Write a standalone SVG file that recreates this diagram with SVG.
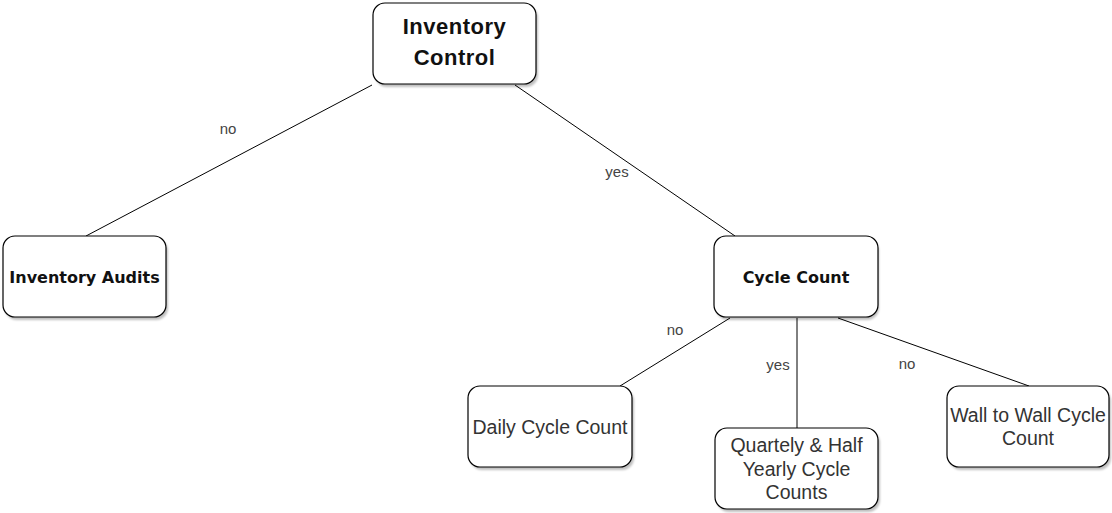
<svg xmlns="http://www.w3.org/2000/svg" width="1112" height="513" viewBox="0 0 1112 513">
  <style>
    .box { fill: #ffffff; stroke: #000000; stroke-width: 1.2; }
    .shadow { fill: #000000; opacity: 0.25; }
    .edge { stroke: #000000; stroke-width: 1; fill: none; }
    .lbl { font-family: "Liberation Sans", Arial, sans-serif; font-size: 15px; fill: #444444; text-anchor: middle; }
    .title { font-family: "Liberation Sans", Arial, sans-serif; font-size: 22px; font-weight: bold; fill: #111111; text-anchor: middle; letter-spacing: 0.5px; }
    .bold { font-family: "DejaVu Sans", Verdana, sans-serif; font-size: 16px; font-weight: bold; fill: #111111; text-anchor: middle; }
    .plain { font-family: "Liberation Sans", Arial, sans-serif; font-size: 19.5px; fill: #333333; text-anchor: middle; }
  </style>
  <defs>
    <filter id="soft" x="-10%" y="-10%" width="130%" height="130%">
      <feGaussianBlur stdDeviation="1"/>
    </filter>
  </defs>

  <g id="connectors">
    <line class="edge" x1="372" y1="85" x2="86" y2="236"/>
    <line class="edge" x1="515" y1="85" x2="735" y2="236"/>
    <line class="edge" x1="730" y1="318" x2="620" y2="386"/>
    <line class="edge" x1="797" y1="318" x2="797" y2="428"/>
    <line class="edge" x1="838" y1="318" x2="1029" y2="386"/>
    <text class="lbl" x="228" y="134">no</text>
    <text class="lbl" x="617" y="177">yes</text>
    <text class="lbl" x="675" y="335">no</text>
    <text class="lbl" x="778" y="370">yes</text>
    <text class="lbl" x="907" y="369">no</text>
  </g>

  <g id="inventory-control">
    <rect class="shadow" filter="url(#soft)" x="375" y="6" width="163" height="81" rx="12"/>
    <rect class="box" x="373" y="3" width="163" height="81" rx="12"/>
    <text class="title" x="454.5" y="34">Inventory</text>
    <text class="title" x="454.5" y="65">Control</text>
  </g>

  <g id="inventory-audits">
    <rect class="shadow" filter="url(#soft)" x="5" y="239" width="163" height="81" rx="12"/>
    <rect class="box" x="3" y="236" width="163" height="81" rx="12"/>
    <text class="bold" x="84.5" y="283">Inventory Audits</text>
  </g>

  <g id="cycle-count">
    <rect class="shadow" filter="url(#soft)" x="716" y="239" width="163" height="81" rx="12"/>
    <rect class="box" x="714" y="236" width="164" height="81" rx="12"/>
    <text class="bold" x="796" y="283">Cycle Count</text>
  </g>

  <g id="daily-cycle-count">
    <rect class="shadow" filter="url(#soft)" x="470" y="389" width="164" height="81" rx="12"/>
    <rect class="box" x="468" y="386" width="164" height="81" rx="12"/>
    <text class="plain" x="550" y="434">Daily Cycle Count</text>
  </g>

  <g id="quarterly-half-yearly">
    <rect class="shadow" filter="url(#soft)" x="717" y="431" width="163" height="81" rx="12"/>
    <rect class="box" x="715" y="428" width="163" height="81" rx="12"/>
    <text class="plain" x="796.5" y="452">Quartely &amp; Half</text>
    <text class="plain" x="796.5" y="476">Yearly Cycle</text>
    <text class="plain" x="796.5" y="499">Counts</text>
  </g>

  <g id="wall-to-wall">
    <rect class="shadow" filter="url(#soft)" x="949" y="389" width="162" height="81" rx="12"/>
    <rect class="box" x="947" y="386" width="162" height="81" rx="12"/>
    <text class="plain" x="1028" y="422">Wall to Wall Cycle</text>
    <text class="plain" x="1028" y="445">Count</text>
  </g>
</svg>
